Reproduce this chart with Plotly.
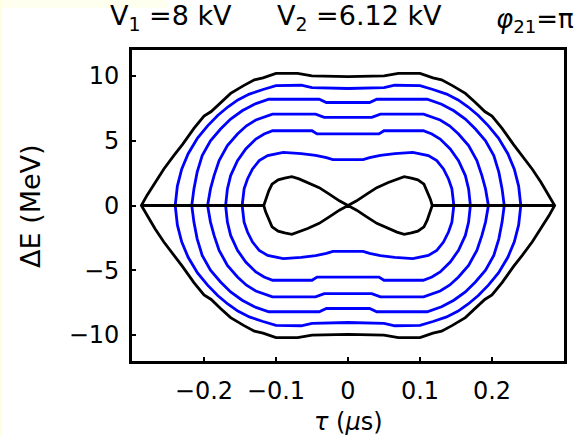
import plotly.graph_objects as go

# Upper-right quadrant (tau >= 0, dE >= 0) of each phase-space orbit,
# ordered from tau = 0 outward to where the orbit meets dE = 0.
# tau in microseconds, dE in MeV.

# outer separatrix
sep_tau = [0.0, 0.05, 0.07, 0.10, 0.118, 0.13, 0.145, 0.163, 0.177, 0.19, 0.20,
           0.214, 0.23, 0.242, 0.256, 0.268, 0.279, 0.287]
sep_dE = [9.95, 10.0, 10.2, 10.2, 9.85, 9.7, 9.25, 8.65, 7.95, 7.25, 6.9,
          5.95, 4.7, 3.85, 2.8, 1.8, 0.8, 0.0]

# inner separatrix (figure-eight lobes), from the centre crossing to the lobe tip
lobe_tau = [0.0, 0.012, 0.026, 0.040, 0.056, 0.068, 0.078, 0.088, 0.097,
            0.1055, 0.110, 0.1144, 0.117]
lobe_dE = [0.0, 0.36, 0.88, 1.38, 1.77, 2.05, 2.22, 2.12, 1.98,
           1.65, 1.13, 0.49, 0.0]

# blue orbits, outermost first
orb1_tau = [0.0, 0.05, 0.065, 0.10, 0.118, 0.137, 0.153, 0.167, 0.181, 0.195,
            0.209, 0.222, 0.231, 0.237, 0.240]
orb1_dE = [9.03, 9.1, 9.28, 9.25, 8.95, 8.6, 8.15, 7.6, 6.95, 6.15,
           5.2, 4.0, 2.8, 1.5, 0.0]

orb2_tau = [0.0, 0.03, 0.04, 0.11, 0.13, 0.147, 0.163, 0.177, 0.191, 0.2025,
            0.2095, 0.214, 0.217]
orb2_dE = [7.95, 7.95, 8.2, 8.2, 7.82, 7.31, 6.67, 5.9, 5.0, 3.85,
           2.57, 1.28, 0.0]

orb3_tau = [0.0, 0.033, 0.045, 0.105, 0.128, 0.141, 0.1535, 0.1675, 0.179,
            0.186, 0.191, 0.195]
orb3_dE = [6.8, 6.8, 7.05, 7.05, 6.6, 6.15, 5.52, 4.62, 3.46,
           2.31, 1.28, 0.0]

orb4_tau = [0.0, 0.043, 0.05, 0.1046, 0.1165, 0.128, 0.142, 0.1535, 0.163,
            0.1675, 0.170]
orb4_dE = [5.52, 5.52, 5.77, 5.77, 5.52, 5.13, 4.36, 3.46, 2.31,
           1.28, 0.0]

orb5_tau = [0.0, 0.021, 0.03, 0.045, 0.065, 0.09, 0.1116, 0.1233, 0.1326,
            0.1396, 0.1443, 0.147]
orb5_dE = [3.54, 3.54, 3.7, 3.87, 4.0, 4.1, 3.85, 3.46, 2.82,
           2.05, 1.28, 0.0]

x_ticks = [-0.2, -0.1, 0, 0.1, 0.2]
y_ticks = [-10, -5, 0, 5, 10]


def closed_orbit(tau, dE):
    """Reflect one quadrant into a closed orbit symmetric in tau and dE."""
    xs = list(tau) + list(reversed(tau)) + [-t for t in tau] + [-t for t in reversed(tau)]
    ys = list(dE) + [-e for e in reversed(dE)] + [-e for e in dE] + list(reversed(dE))
    return xs, ys


def tick_text(values):
    return [("−" if v < 0 else "") + f"{abs(v):g}" for v in values]


fig = go.Figure()

LW = 2.8

for tau, dE in [(orb1_tau, orb1_dE), (orb2_tau, orb2_dE), (orb3_tau, orb3_dE),
                (orb4_tau, orb4_dE), (orb5_tau, orb5_dE)]:
    xs, ys = closed_orbit(tau, dE)
    fig.add_trace(go.Scatter(x=xs, y=ys, mode="lines",
                             line=dict(color="#0000ff", width=LW),
                             hoverinfo="skip", showlegend=False))

xs, ys = closed_orbit(sep_tau, sep_dE)
fig.add_trace(go.Scatter(x=xs, y=ys, mode="lines",
                         line=dict(color="black", width=LW),
                         hoverinfo="skip", showlegend=False))

xs, ys = closed_orbit(lobe_tau, lobe_dE)
fig.add_trace(go.Scatter(x=xs, y=ys, mode="lines",
                         line=dict(color="black", width=LW),
                         hoverinfo="skip", showlegend=False))

# separatrix branches along dE = 0 between the lobe tips and the outer cusps
fig.add_trace(go.Scatter(
    x=[-sep_tau[-1], -lobe_tau[-1], None, lobe_tau[-1], sep_tau[-1]],
    y=[0, 0, None, 0, 0], mode="lines",
    line=dict(color="black", width=LW),
    hoverinfo="skip", showlegend=False))

FONT = "DejaVu Sans"

axis_common = dict(
    showgrid=False, zeroline=False, showline=True, linecolor="black",
    linewidth=2.8, mirror=True, ticks="inside", ticklen=4, tickwidth=1.5,
    tickcolor="black", tickfont=dict(family=FONT, size=24, color="black"),
)

fig.update_xaxes(range=[-0.3, 0.3], tickvals=x_ticks, ticktext=tick_text(x_ticks),
                 ticklabelstandoff=6, **axis_common)
fig.update_yaxes(range=[-12, 12], tickvals=y_ticks, ticktext=tick_text(y_ticks),
                 ticklabelstandoff=5, **axis_common)

annotations = [
    dict(text="V<sub>1</sub> =8 kV", x=-0.0556, y=1.103, xanchor="left",
         yanchor="middle", font=dict(family=FONT, size=27, color="black")),
    dict(text="V<sub>2</sub> =6.12 kV", x=0.331, y=1.103, xanchor="left",
         yanchor="middle", font=dict(family=FONT, size=27, color="black")),
    dict(text="<i>φ</i><sub>21</sub>=π", x=0.838, y=1.095, xanchor="left",
         yanchor="middle", font=dict(family=FONT, size=26, color="black")),
    dict(text="<i>τ</i> (<i>μ</i>s)", x=0.5, y=-0.195, xanchor="center",
         yanchor="middle", font=dict(family=FONT, size=24, color="black")),
    dict(text="ΔE (MeV)", x=-0.235, y=0.5, xanchor="center", yanchor="middle",
         textangle=-90, font=dict(family=FONT, size=27, color="black")),
]
for a in annotations:
    a.update(xref="paper", yref="paper", showarrow=False)

fig.update_layout(
    width=586, height=436,
    margin=dict(l=132, r=22, t=50, b=75),
    paper_bgcolor="white", plot_bgcolor="white",
    annotations=annotations,
    shapes=[
        dict(type="rect", xref="paper", yref="paper", x0=-0.3056, x1=0.083,
             y0=1.135, y1=1.161, fillcolor="#fffff0", line=dict(width=0),
             layer="below"),
        dict(type="rect", xref="paper", yref="paper", x0=-0.3056, x1=-0.3009,
             y0=-0.241, y1=1.161, fillcolor="#ffffe0", line=dict(width=0),
             layer="below"),
    ],
)

fig.write_html("out.html")
